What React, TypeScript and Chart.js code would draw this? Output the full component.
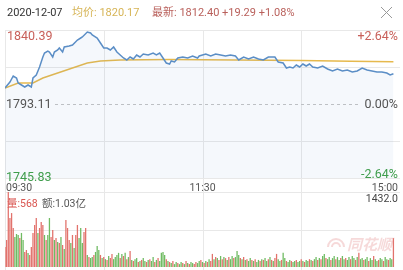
import React, { useEffect, useRef } from 'react';
import { Chart, registerables } from 'chart.js';
Chart.register(...registerables);

const FONT = "Roboto, 'Noto Sans CJK SC', sans-serif";

// ---- header / axis text ----
const dateLabel = '2020-12-07';
const avgLabel = '均价: 1820.17';
const lastLabel = '最新: 1812.40 +19.29 +1.08%';
const timeLabels = ['09:30', '11:30', '15:00'];
const priceMax = 1840.39;
const prevClose = 1793.11;
const priceMin = 1745.83;
const pctTop = '+2.64%';
const pctMid = '0.00%';
const pctBottom = '-2.64%';
const volumeMax = 1432.0;
const volLabel = '量:568';
const amountLabel = '额:1.03亿';
const watermark = '同花顺';

// ---- price line (minute index from 09:30, price) ----
const priceIdx = [0, 3, 5, 7, 8, 10, 12, 14, 16, 17, 19, 21, 23, 24, 26, 27, 29, 30, 32, 33, 35, 36, 39, 41, 44, 46, 47, 50, 52, 53, 56, 58, 60, 62, 64, 66, 68, 70, 72, 74, 76, 78, 80, 82, 84, 87, 90, 92, 94, 96, 98, 100, 101, 103, 105, 108, 111, 114, 117, 118, 122, 125, 128, 131, 134, 137, 140, 142, 145, 148, 151, 154, 157, 160, 164, 166, 169, 171, 173, 175, 177, 179, 181, 183, 185, 187, 190, 193, 196, 199, 202, 205, 208, 211, 214, 217, 220, 223, 226, 229, 232, 234, 236];
const priceVals = [1803.33, 1807.17, 1811.0, 1809.72, 1806.53, 1805.25, 1803.97, 1805.25, 1803.97, 1809.72, 1811.64, 1816.75, 1823.14, 1825.69, 1826.97, 1826.33, 1823.14, 1826.33, 1827.61, 1828.89, 1826.33, 1829.53, 1830.17, 1830.81, 1834.0, 1835.28, 1835.92, 1839.11, 1838.47, 1837.19, 1835.28, 1832.08, 1828.89, 1828.89, 1827.61, 1829.53, 1826.33, 1824.42, 1822.5, 1821.22, 1823.14, 1821.86, 1824.42, 1823.14, 1825.06, 1824.42, 1825.69, 1824.42, 1825.69, 1822.5, 1819.3, 1818.67, 1820.58, 1819.94, 1822.5, 1823.14, 1822.5, 1823.78, 1822.5, 1823.78, 1825.06, 1823.78, 1825.06, 1824.42, 1823.78, 1824.42, 1823.78, 1821.22, 1823.14, 1821.86, 1823.14, 1821.86, 1821.22, 1823.14, 1823.14, 1819.94, 1819.3, 1816.11, 1816.75, 1816.11, 1818.03, 1816.75, 1818.67, 1817.39, 1818.67, 1816.75, 1816.11, 1817.39, 1815.47, 1814.19, 1815.47, 1814.19, 1814.83, 1813.55, 1814.19, 1816.11, 1814.83, 1814.19, 1813.55, 1813.55, 1812.92, 1811.64, 1812.4];

// ---- average price line ----
const avgIdx = [0, 8, 17, 23, 32, 41, 50, 58, 70, 100, 140, 180, 210, 236];
const avgVals = [1803.33, 1806.53, 1806.53, 1809.72, 1812.92, 1816.11, 1819.3, 1820.58, 1821.22, 1821.5, 1821.3, 1820.9, 1820.5, 1820.17];

// ---- volume per minute ----
const volumes = [
  380, 515, 1432, 936, 1030, 745, 573, 630, 611, 554,
  650, 516, 287, 325, 267, 229, 382, 650, 802, 936,
  650, 745, 860, 802, 611, 516, 611, 936, 573, 707,
  516, 554, 478, 458, 573, 420, 344, 898, 745, 516,
  458, 611, 363, 611, 802, 554, 745, 458, 669, 745,
  229, 191, 172, 191, 229, 287, 400,
  325, 230, 170, 190, 150, 135, 210, 170, 250, 150,
  190, 230, 270, 170, 250, 210, 270, 150, 190, 305,
  135, 115, 150, 170, 95, 115, 135, 170, 115, 95,
  135, 150, 115, 190, 95, 135, 170, 115, 270, 285,
  230, 150, 115, 95, 75, 115, 55, 95, 75, 55,
  95, 75, 55, 115, 75, 55, 95, 75, 55, 95,
  75, 115, 135, 95, 75, 115, 95, 150, 115, 250,
  150, 190, 170, 135, 210, 150, 190, 170, 135, 190,
  150, 210, 170, 190, 305, 230, 170, 150, 190, 135,
  150, 115, 170, 135, 115, 150, 95, 135, 115, 150,
  135, 170, 115, 150, 190, 135, 115, 170, 250, 150,
  115, 135, 270, 170, 115, 95, 135, 115, 95, 115,
  135, 95, 115, 150, 115, 95, 135, 115, 150, 135,
  115, 150, 190, 135, 170, 150, 210, 250, 170, 150,
  190, 135, 170, 210, 150, 190, 135, 170, 210, 150,
  170, 135, 190, 150, 210, 170, 135, 190, 270, 150,
  170, 135, 150, 190, 115, 170, 135, 210, 150, 115,
  135, 170, 150, 115, 190, 150, 135, 170, 150, 550,
];
// u = up minute, d = down minute
const volumeDir = [
  'uuuuuudddu', 'dduuduuuuu', 'duuududduu', 'dudududuuu', 'duduuddduu', 'duddudd',
  'dudududuud', 'dddudududu', 'duddududdu', 'duddududdd', 'dudududdud', 'dudududduu',
  'ddudududuu', 'dududududu', 'ddudddudud', 'uddududdud', 'uddududuud', 'dudduddudd',
  'uddududdud', 'uddududdud', 'dudduddudd', 'udduddudud', 'dudduddudd', 'uddudduddu',
].join('');

const RED = '#e2726c';
const GREEN = '#6fbb62';
const GRID = '#e8e8e8';

const priceGrid = {
  id: 'priceGrid',
  beforeDatasetsDraw(chart: any) {
    const { ctx, chartArea, scales } = chart;
    const { left, right, top } = chartArea;
    const y = scales.y;
    const x = scales.x;
    ctx.save();
    ctx.strokeStyle = GRID;
    ctx.lineWidth = 1;
    const hs = [priceMax, (priceMax + prevClose) / 2, (prevClose + priceMin) / 2, priceMin];
    hs.forEach((v) => {
      const py = Math.round(y.getPixelForValue(v)) + 0.5;
      ctx.beginPath();
      ctx.moveTo(left, py);
      ctx.lineTo(right, py);
      ctx.stroke();
    });
    [0, 60, 120, 180].forEach((m) => {
      const px = Math.round(x.getPixelForValue(m)) + 0.5;
      ctx.beginPath();
      ctx.moveTo(px, top);
      ctx.lineTo(px, chart.height);
      ctx.stroke();
    });
    const py = Math.round(y.getPixelForValue(prevClose)) + 0.5;
    ctx.strokeStyle = '#c4c4c4';
    ctx.setLineDash([3, 3]);
    ctx.beginPath();
    ctx.moveTo(left + 50, py);
    ctx.lineTo(right - 40, py);
    ctx.stroke();
    ctx.restore();
  },
};

const priceLabels = {
  id: 'priceLabels',
  afterDraw(chart: any) {
    const { ctx, chartArea, scales } = chart;
    const { left, right } = chartArea;
    const y = scales.y;
    const x = scales.x;
    ctx.save();
    ctx.textBaseline = 'middle';
    ctx.font = `11px ${FONT}`;
    ctx.textAlign = 'left';
    ctx.fillStyle = '#333';
    ctx.fillText(dateLabel, 7, 13);
    ctx.fillStyle = '#d6b455';
    ctx.fillText(avgLabel, 72, 13);
    ctx.fillStyle = '#b9605b';
    ctx.fillText(lastLabel, 152, 13);
    // close mark
    ctx.strokeStyle = '#999';
    ctx.lineWidth = 1;
    ctx.beginPath();
    ctx.moveTo(381, 7);
    ctx.lineTo(392, 18);
    ctx.moveTo(392, 7);
    ctx.lineTo(381, 18);
    ctx.stroke();

    ctx.textBaseline = 'alphabetic';
    ctx.font = `12.5px ${FONT}`;
    const yTop = y.getPixelForValue(priceMax);
    const yMid = y.getPixelForValue(prevClose);
    const yBot = y.getPixelForValue(priceMin);
    ctx.fillStyle = '#c8605a';
    ctx.textAlign = 'left';
    ctx.fillText(priceMax.toFixed(2), left + 2, yTop + 9.5);
    ctx.textAlign = 'right';
    ctx.fillText(pctTop, right - 2, yTop + 9.5);
    ctx.fillStyle = '#555';
    ctx.textAlign = 'left';
    ctx.fillText(prevClose.toFixed(2), left + 1, yMid + 4);
    ctx.textAlign = 'right';
    ctx.fillText(pctMid, right - 2, yMid + 4);
    ctx.fillStyle = '#3f9d4c';
    ctx.textAlign = 'left';
    ctx.fillText(priceMin.toFixed(2), left + 1, yBot + 3);
    ctx.textAlign = 'right';
    ctx.fillText(pctBottom, right - 2, yBot - 0.5);

    ctx.font = `10.5px ${FONT}`;
    ctx.fillStyle = '#555';
    ctx.textAlign = 'left';
    ctx.fillText(timeLabels[0], left + 1, 191);
    ctx.textAlign = 'center';
    ctx.fillText(timeLabels[1], x.getPixelForValue(120), 191);
    ctx.textAlign = 'right';
    ctx.fillText(timeLabels[2], right - 2, 191);
    ctx.restore();
  },
};

const volGrid = {
  id: 'volGrid',
  beforeDatasetsDraw(chart: any) {
    const { ctx, chartArea, scales } = chart;
    const { left, right, top } = chartArea;
    const x = scales.x;
    const y = scales.y;
    ctx.save();
    ctx.strokeStyle = GRID;
    ctx.lineWidth = 1;
    [top, y.getPixelForValue(volumeMax / 2)].forEach((v) => {
      const py = Math.round(v) + 0.5;
      ctx.beginPath();
      ctx.moveTo(left, py);
      ctx.lineTo(right, py);
      ctx.stroke();
    });
    [0, 60, 120, 180].forEach((m) => {
      const px = Math.round(x.getPixelForValue(m)) + 0.5;
      ctx.beginPath();
      ctx.moveTo(px, 0);
      ctx.lineTo(px, chart.height);
      ctx.stroke();
    });
    // watermark
    ctx.fillStyle = 'rgba(222,120,120,0.28)';
    ctx.strokeStyle = 'rgba(222,120,120,0.28)';
    ctx.font = `italic bold 15px 'Noto Sans CJK SC', sans-serif`;
    ctx.textAlign = 'left';
    ctx.textBaseline = 'middle';
    ctx.fillText(watermark, 347, 52);
    ctx.lineWidth = 2;
    ctx.beginPath();
    ctx.arc(336, 55, 8, Math.PI * 1.0, Math.PI * 2.0);
    ctx.stroke();
    ctx.beginPath();
    ctx.arc(336, 55, 4, Math.PI * 1.0, Math.PI * 2.0);
    ctx.stroke();
    ctx.restore();
  },
  afterDatasetsDraw(chart: any) {
    const { ctx, chartArea } = chart;
    const { left, right } = chartArea;
    ctx.save();
    ctx.font = `10.5px ${FONT}`;
    ctx.textBaseline = 'alphabetic';
    ctx.fillStyle = '#444';
    ctx.textAlign = 'right';
    ctx.fillText(volumeMax.toFixed(1), right - 2, 10);
    ctx.textAlign = 'left';
    ctx.fillStyle = '#d9544f';
    ctx.fillText(volLabel, left + 2, 15);
    ctx.fillStyle = '#555';
    ctx.fillText(amountLabel, left + 37, 15);
    ctx.restore();
  },
};

export default function App() {
  const priceRef = useRef<HTMLCanvasElement>(null);
  const volRef = useRef<HTMLCanvasElement>(null);

  useEffect(() => {
    document.body.style.margin = '0';
    const pc = new Chart(priceRef.current as HTMLCanvasElement, {
      type: 'line',
      data: {
        datasets: [
          {
            label: 'price',
            data: priceIdx.map((m, i) => ({ x: m, y: priceVals[i] })),
            borderColor: '#5b8ec6',
            borderWidth: 1.5,
            pointRadius: 0,
            tension: 0,
            fill: 'start',
            backgroundColor: 'rgba(91,142,198,0.06)',
            order: 0,
          },
          {
            label: 'avg',
            data: avgIdx.map((m, i) => ({ x: m, y: avgVals[i] })),
            borderColor: '#e6b94d',
            borderWidth: 1.5,
            pointRadius: 0,
            tension: 0,
            fill: false,
            order: 1,
          },
        ],
      },
      options: {
        responsive: false,
        animation: false,
        devicePixelRatio: 1,
        events: [],
        layout: { padding: { left: 5, right: 3, top: 30, bottom: 14 } },
        plugins: { legend: { display: false }, tooltip: { enabled: false } },
        scales: {
          x: { type: 'linear', min: 0, max: 240, display: false },
          y: { min: priceMin, max: priceMax, display: false },
        },
      },
      plugins: [priceGrid, priceLabels],
    } as any);

    const vc = new Chart(volRef.current as HTMLCanvasElement, {
      type: 'bar',
      data: {
        datasets: [
          {
            label: 'volume',
            data: volumes.map((v, i) => ({ x: i, y: v })),
            backgroundColor: volumes.map((_, i) => (volumeDir[i] === 'd' ? GREEN : RED)),
            borderWidth: 0,
            barPercentage: 1,
            categoryPercentage: 0.78,
          },
        ],
      },
      options: {
        responsive: false,
        animation: false,
        devicePixelRatio: 1,
        events: [],
        layout: { padding: { left: 5, right: 3, top: 0, bottom: 3 } },
        plugins: { legend: { display: false }, tooltip: { enabled: false } },
        scales: {
          x: { type: 'linear', min: 0, max: 240, display: false, offset: false },
          y: { min: 0, max: volumeMax, display: false },
        },
      },
      plugins: [volGrid],
    } as any);

    return () => {
      pc.destroy();
      vc.destroy();
    };
  }, []);

  return (
    <div style={{ position: 'fixed', left: 0, top: 0, width: 403, height: 270, background: '#fff' }}>
      <canvas ref={priceRef} width={403} height={192} style={{ position: 'absolute', left: 0, top: 0 }} />
      <canvas ref={volRef} width={403} height={78} style={{ position: 'absolute', left: 0, top: 192 }} />
    </div>
  );
}
